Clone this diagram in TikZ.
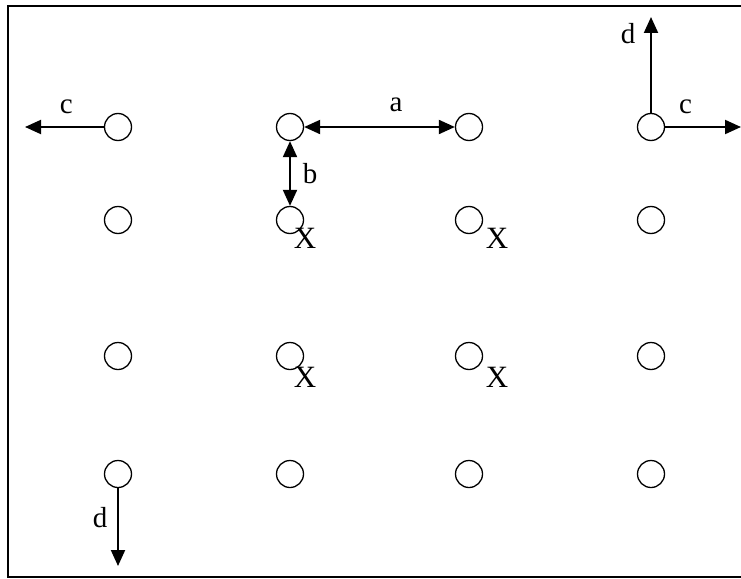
\documentclass[tikz,border=0pt]{standalone}
\usepackage{fontspec}
\setmainfont{Liberation Serif}
\usetikzlibrary{arrows.meta,positioning}
\tikzstyle{nS}=[circle,minimum size = 27pt,inner sep = 0pt,draw,line width=1.3pt]
\tikzstyle{eOne}=[line width=2pt,-{Triangle[length=16pt,width=14pt]}]
\tikzstyle{eTwo}=[line width=2pt,{Triangle[length=16pt,width=14pt]}-{Triangle[length=16pt,width=14pt]}]
\tikzstyle{lS}=[inner sep = 0pt, font=\fontsize{29}{31}\selectfont]
\tikzstyle{xS}=[inner sep = 0pt, font=\fontsize{31}{33}\selectfont]

\begin{document}
\begin{tikzpicture}[x=1pt,y=-1pt]%[1px = 1pt]
                \useasboundingbox (0,0) rectangle (741,578);
                \draw[line width=1.5pt] (8,6) rectangle (760,577);
                % grid of sites
                \draw (118,127) node[nS] (n11) {}; 
                \draw (290,127) node[nS] (n12) {};
                \draw (469,127) node[nS] (n13) {};
                \draw (651,127) node[nS] (n14) {};
                \draw (118,220) node[nS] (n21) {}; 
                \draw (290,220) node[nS] (n22) {};
                \draw (469,220) node[nS] (n23) {};
                \draw (651,220) node[nS] (n24) {};
                \draw (118,356) node[nS] (n31) {}; 
                \draw (290,356) node[nS] (n32) {};
                \draw (469,356) node[nS] (n33) {};
                \draw (651,356) node[nS] (n34) {};
                \draw (118,474) node[nS] (n41) {}; 
                \draw (290,474) node[nS] (n42) {};
                \draw (469,474) node[nS] (n43) {};
                \draw (651,474) node[nS] (n44) {};
                % free ends
                \coordinate (cL) at (25,127);
                \coordinate (cR) at (741,127);
                \coordinate (dU) at (651,17);
                \coordinate (dD) at (118,566);
                \path
                    (n11) edge[eOne] node[lS,pos=0.475,yshift=20pt]{c} (cL)
                    (n12) edge[eTwo] node[lS,pos=0.61,yshift=22pt]{a} (n13)
                    (n12) edge[eTwo] node[lS,xshift=20pt]{b} (n22)
                    (n14) edge[eOne] node[lS,pos=0.83,xshift=-23pt]{d} (dU)
                    (n14) edge[eOne] node[lS,pos=0.27,yshift=20pt]{c} (cR)
                    (n41) edge[eOne] node[lS,pos=0.38,xshift=-18pt]{d} (dD)
                ;
                % marked sites
                \draw (305,238) node[xS] (x22) {X};
                \draw (497,238) node[xS] (x23) {X};
                \draw (305,377) node[xS] (x32) {X};
                \draw (497,377) node[xS] (x33) {X};
        \end{tikzpicture}
\end{document}
